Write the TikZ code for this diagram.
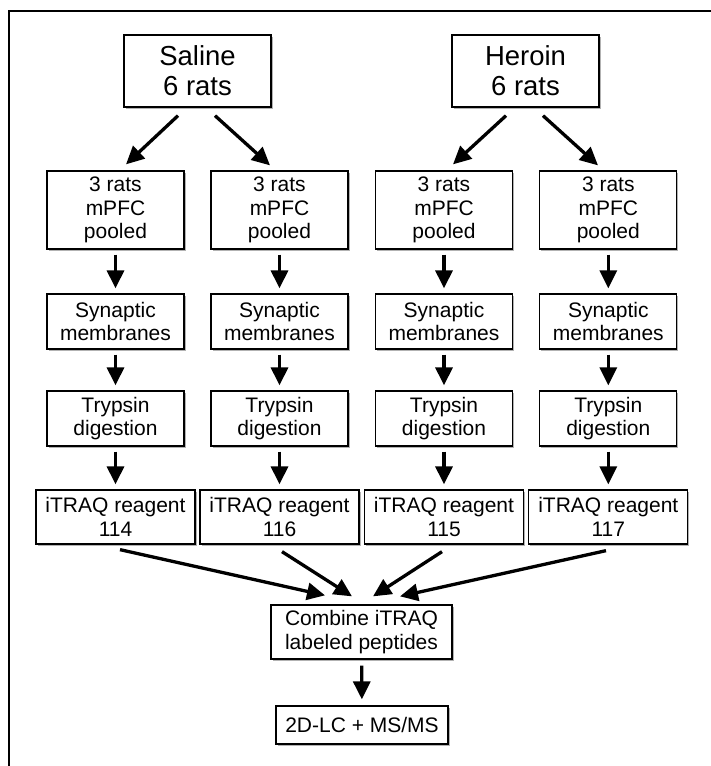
\documentclass[tikz,border=0pt]{standalone}
\usepackage{fontspec}
\setmainfont{Liberation Sans}
\usetikzlibrary{arrows.meta,calc,shadows}
\begin{document}
\begin{tikzpicture}[x=1pt,y=-1pt,
  box/.style={draw=black, line width=1.3pt, fill=white, align=center, inner sep=0pt,
    drop shadow={shadow xshift=1.6pt, shadow yshift=-1.6pt, fill=black!55, opacity=0.55},
    font=\fontsize{21}{23.3}\selectfont},
  bigbox/.style={box, minimum width=147pt, minimum height=72pt, font=\fontsize{27.5}{30}\selectfont},
  colbox/.style={box, minimum width=137pt},
  tagbox/.style={box, minimum width=159pt, minimum height=54pt},
  arr/.style={line width=3.3pt, -{Triangle[length=18pt,width=17pt]}},
  frame/.style={line width=1.6pt, draw=black}]
\useasboundingbox (0,0) rectangle (711,766);
\draw[frame] (9,766) -- (9,11) -- (711,11);

\node[bigbox] (sal) at (197.5,71) {Saline\\6 rats};
\node[bigbox] (her) at (525.5,71) {Heroin\\6 rats};

\foreach \i/\x in {1/115.5, 2/279.5, 3/444, 4/608.3} {
  \node[colbox, minimum height=78pt] (p\i) at (\x,210) {3 rats\\mPFC\\pooled};
  \node[colbox, minimum height=55pt] (s\i) at (\x,321.5) {Synaptic\\membranes};
  \node[colbox, minimum height=55pt] (t\i) at (\x,418.5) {Trypsin\\digestion};
}
\node[tagbox] (i1) at (115.5,517) {iTRAQ reagent\\114};
\node[tagbox] (i2) at (279.5,517) {iTRAQ reagent\\116};
\node[tagbox] (i3) at (444,517) {iTRAQ reagent\\115};
\node[tagbox] (i4) at (608.3,517) {iTRAQ reagent\\117};

\node[box, minimum width=181pt, minimum height=54pt] (comb) at (361.5,632) {Combine iTRAQ\\labeled peptides};
\node[box, minimum width=172pt, minimum height=38pt] (ms) at (362,725) {2D-LC + MS/MS};

% top diagonal arrows
\coordinate (a1) at ($(sal.south)+(-19.5,8)$);
\coordinate (b1) at ($(p1.north)+(10.5,-6)$);
\coordinate (a2) at ($(sal.south)+(17.5,8)$);
\coordinate (b2) at ($(p2.north)+(-9.5,-5)$);
\coordinate (a3) at ($(her.south)+(-19.5,8)$);
\coordinate (b3) at ($(p3.north)+(9,-6)$);
\coordinate (a4) at ($(her.south)+(17.5,8)$);
\coordinate (b4) at ($(p4.north)+(-10.3,-5)$);
\foreach \k in {1,2,3,4} { \draw[arr] (a\k) -- (b\k); }

% vertical arrows
\foreach \k in {1,2,3,4} {
  \draw[arr, shorten <=5pt, shorten >=5pt] (p\k) -- (s\k);
  \draw[arr, shorten <=5pt, shorten >=5pt] (s\k) -- (t\k);
  \draw[arr, shorten <=5pt, shorten >=5pt] (t\k) -- (i\k);
}

% converging arrows
\coordinate (c1) at ($(i1.south)+(4.5,5)$);
\coordinate (d1) at ($(comb.north)+(-36.5,-9)$);
\coordinate (c2) at ($(i2.south)+(2.5,7)$);
\coordinate (d2) at ($(comb.north)+(-9.5,-8)$);
\coordinate (c3) at ($(i3.south)+(-2,7)$);
\coordinate (d3) at ($(comb.north)+(11.5,-8)$);
\coordinate (c4) at ($(i4.south)+(-2.3,6)$);
\coordinate (d4) at ($(comb.north)+(38.5,-8)$);
\foreach \k in {1,2,3,4} { \draw[arr] (c\k) -- (d\k); }

\draw[arr, shorten <=6pt, shorten >=6pt] (comb) -- (ms);
\end{tikzpicture}
\end{document}
